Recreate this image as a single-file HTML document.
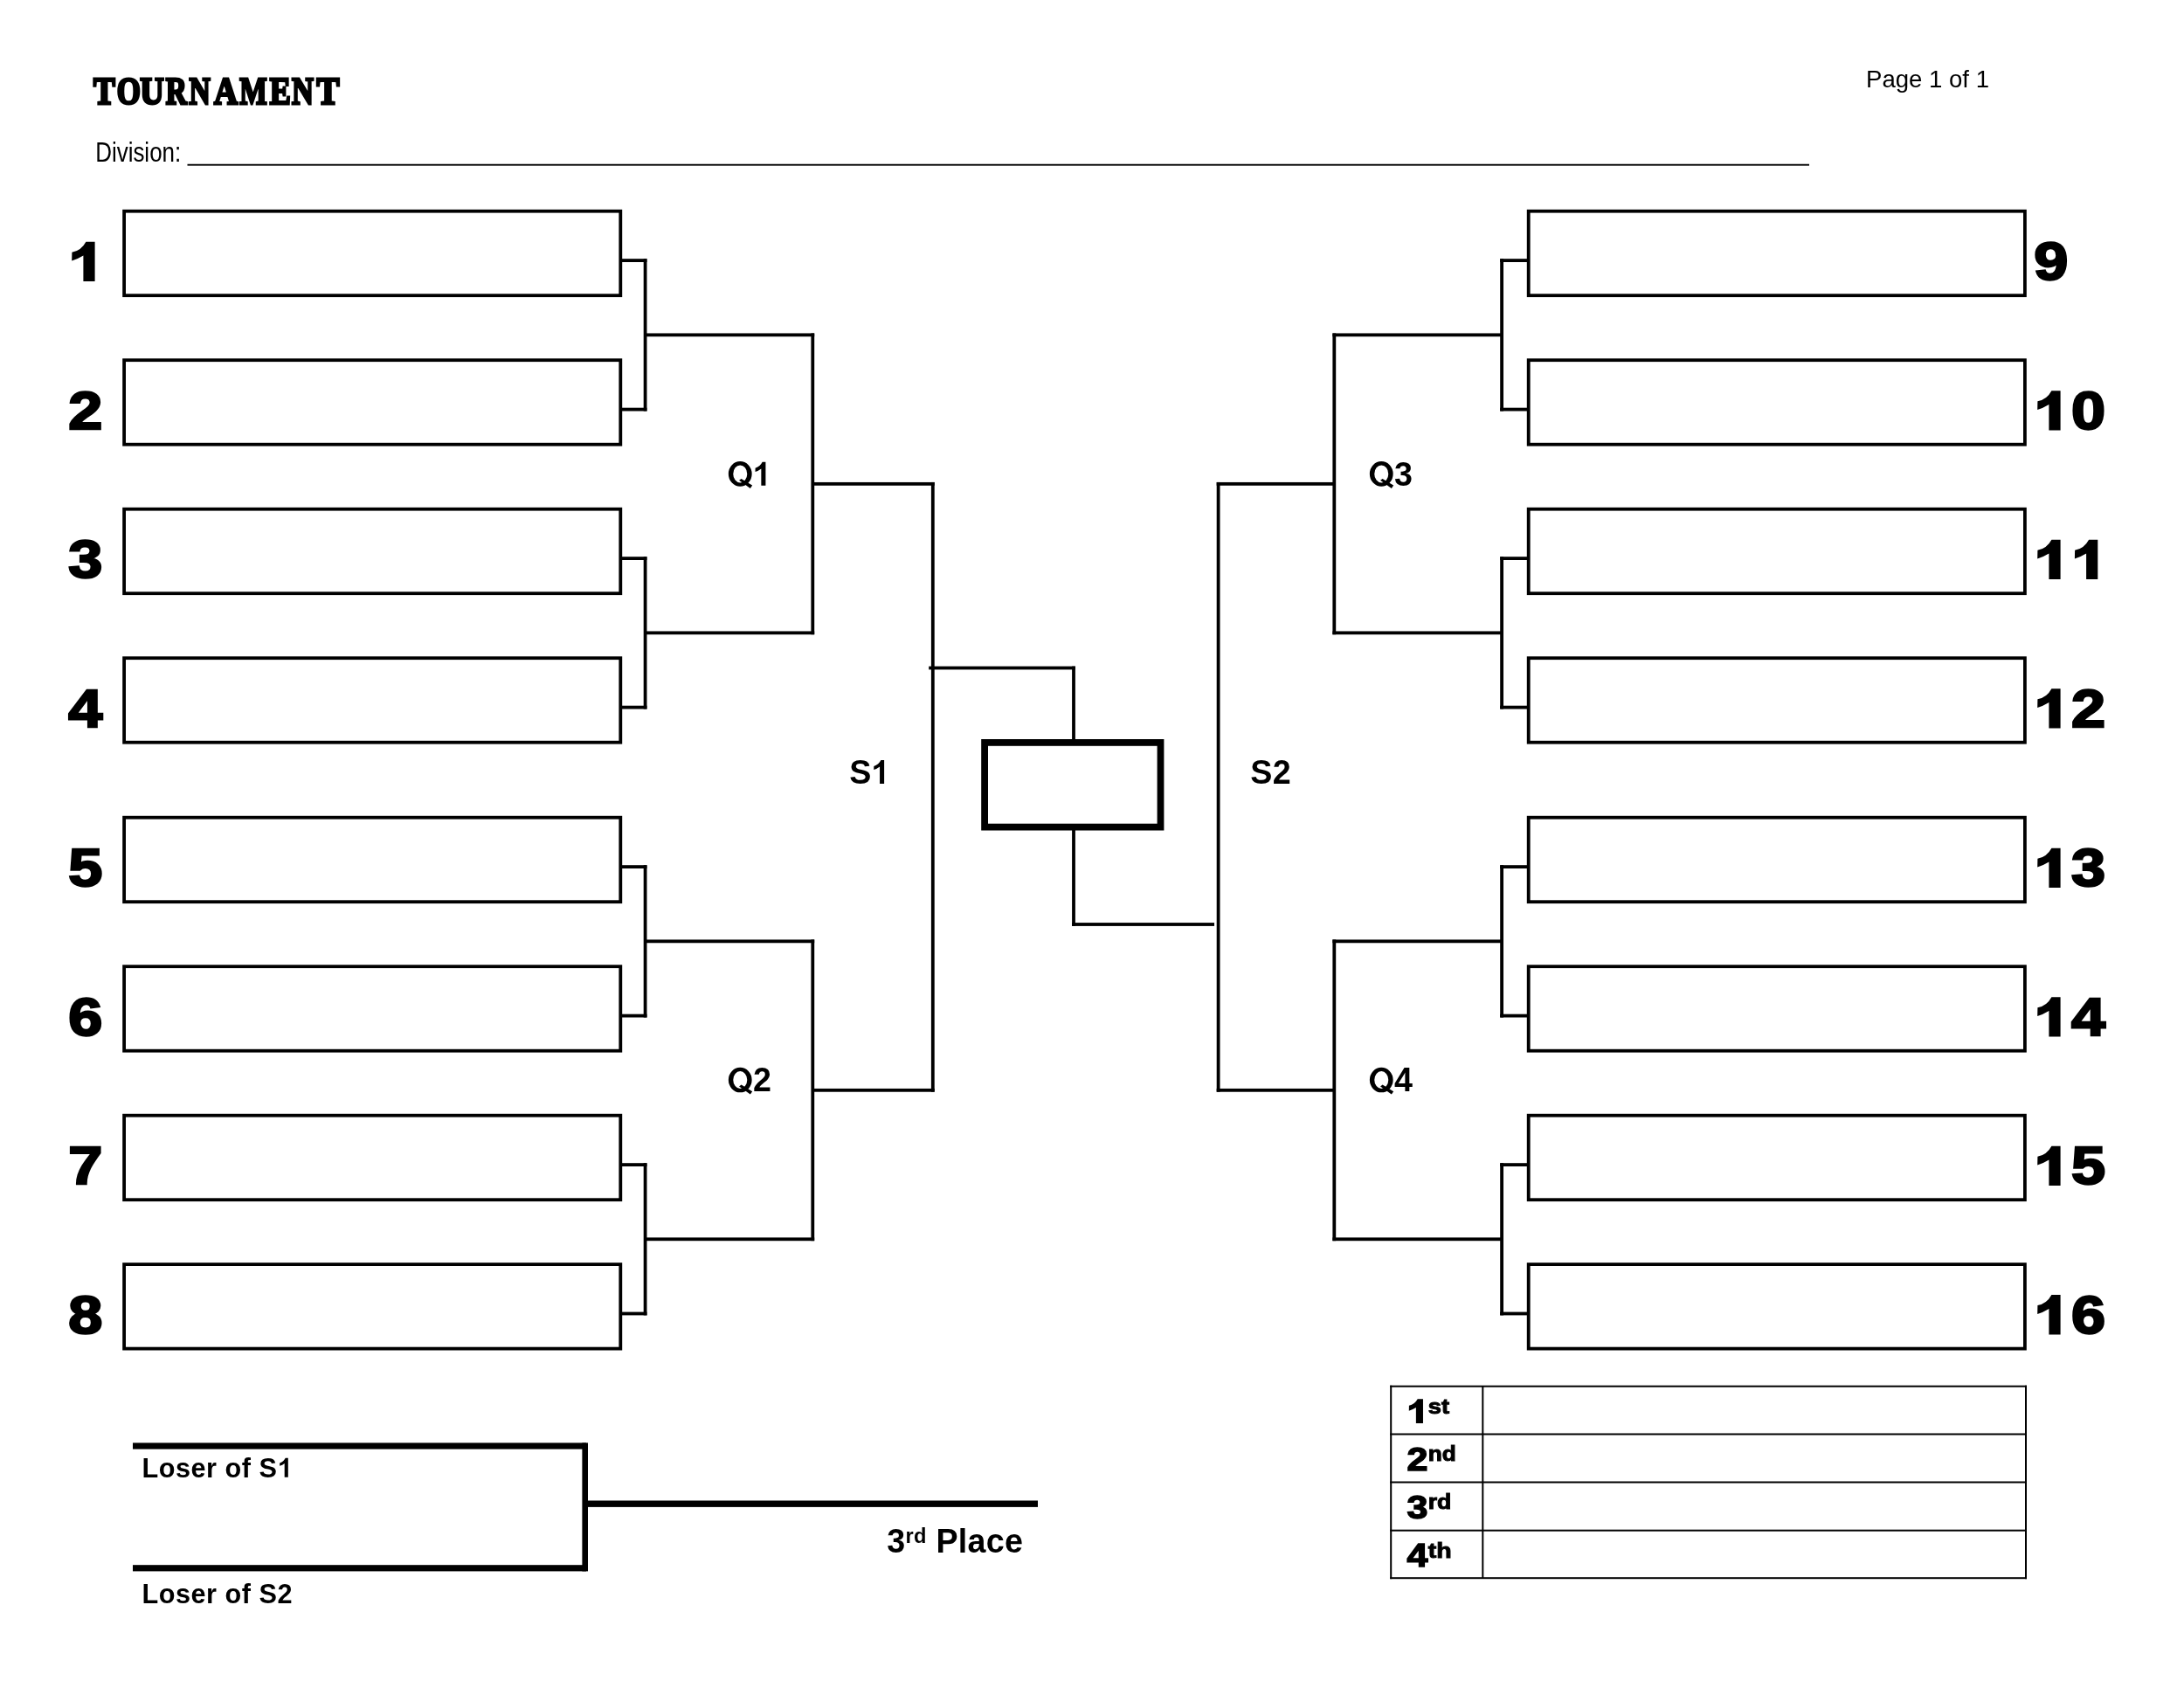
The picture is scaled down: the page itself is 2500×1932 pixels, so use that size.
<!DOCTYPE html>
<html><head><meta charset="utf-8"><title>Tournament</title>
<style>html,body{margin:0;padding:0;background:#fff;}body{width:2500px;height:1932px;overflow:hidden;font-family:"Liberation Sans",sans-serif;}svg{display:block;position:absolute;left:0;top:0;will-change:transform;}text{fill:#000;}</style>
</head><body>
<svg width="2500" height="1932" viewBox="0 0 2500 1932">
<rect x="0" y="0" width="2500" height="1932" fill="#fff"/>
<rect x="142.10" y="241.70" width="568.20" height="96.50" fill="none" stroke="#000" stroke-width="3.8"/>
<rect x="1749.70" y="241.70" width="568.20" height="96.50" fill="none" stroke="#000" stroke-width="3.8"/>
<rect x="711.20" y="296.20" width="29.30" height="3.80" fill="#000"/>
<rect x="1717.20" y="296.20" width="31.60" height="3.80" fill="#000"/>
<rect x="142.10" y="412.20" width="568.20" height="96.50" fill="none" stroke="#000" stroke-width="3.8"/>
<rect x="1749.70" y="412.20" width="568.20" height="96.50" fill="none" stroke="#000" stroke-width="3.8"/>
<rect x="711.20" y="466.70" width="29.30" height="3.80" fill="#000"/>
<rect x="1717.20" y="466.70" width="31.60" height="3.80" fill="#000"/>
<rect x="142.10" y="582.70" width="568.20" height="96.50" fill="none" stroke="#000" stroke-width="3.8"/>
<rect x="1749.70" y="582.70" width="568.20" height="96.50" fill="none" stroke="#000" stroke-width="3.8"/>
<rect x="711.20" y="637.20" width="29.30" height="3.80" fill="#000"/>
<rect x="1717.20" y="637.20" width="31.60" height="3.80" fill="#000"/>
<rect x="142.10" y="753.20" width="568.20" height="96.50" fill="none" stroke="#000" stroke-width="3.8"/>
<rect x="1749.70" y="753.20" width="568.20" height="96.50" fill="none" stroke="#000" stroke-width="3.8"/>
<rect x="711.20" y="807.70" width="29.30" height="3.80" fill="#000"/>
<rect x="1717.20" y="807.70" width="31.60" height="3.80" fill="#000"/>
<rect x="142.10" y="935.70" width="568.20" height="96.50" fill="none" stroke="#000" stroke-width="3.8"/>
<rect x="1749.70" y="935.70" width="568.20" height="96.50" fill="none" stroke="#000" stroke-width="3.8"/>
<rect x="711.20" y="990.20" width="29.30" height="3.80" fill="#000"/>
<rect x="1717.20" y="990.20" width="31.60" height="3.80" fill="#000"/>
<rect x="142.10" y="1106.20" width="568.20" height="96.50" fill="none" stroke="#000" stroke-width="3.8"/>
<rect x="1749.70" y="1106.20" width="568.20" height="96.50" fill="none" stroke="#000" stroke-width="3.8"/>
<rect x="711.20" y="1160.70" width="29.30" height="3.80" fill="#000"/>
<rect x="1717.20" y="1160.70" width="31.60" height="3.80" fill="#000"/>
<rect x="142.10" y="1276.70" width="568.20" height="96.50" fill="none" stroke="#000" stroke-width="3.8"/>
<rect x="1749.70" y="1276.70" width="568.20" height="96.50" fill="none" stroke="#000" stroke-width="3.8"/>
<rect x="711.20" y="1331.20" width="29.30" height="3.80" fill="#000"/>
<rect x="1717.20" y="1331.20" width="31.60" height="3.80" fill="#000"/>
<rect x="142.10" y="1447.10" width="568.20" height="96.50" fill="none" stroke="#000" stroke-width="3.8"/>
<rect x="1749.70" y="1447.10" width="568.20" height="96.50" fill="none" stroke="#000" stroke-width="3.8"/>
<rect x="711.20" y="1501.60" width="29.30" height="3.80" fill="#000"/>
<rect x="1717.20" y="1501.60" width="31.60" height="3.80" fill="#000"/>
<rect x="736.70" y="296.20" width="3.80" height="174.30" fill="#000"/>
<rect x="1717.20" y="296.20" width="3.80" height="174.30" fill="#000"/>
<rect x="738.60" y="381.45" width="193.60" height="3.80" fill="#000"/>
<rect x="1525.40" y="381.45" width="193.70" height="3.80" fill="#000"/>
<rect x="736.70" y="637.20" width="3.80" height="174.30" fill="#000"/>
<rect x="1717.20" y="637.20" width="3.80" height="174.30" fill="#000"/>
<rect x="738.60" y="722.45" width="193.60" height="3.80" fill="#000"/>
<rect x="1525.40" y="722.45" width="193.70" height="3.80" fill="#000"/>
<rect x="736.70" y="990.20" width="3.80" height="174.30" fill="#000"/>
<rect x="1717.20" y="990.20" width="3.80" height="174.30" fill="#000"/>
<rect x="738.60" y="1075.45" width="193.60" height="3.80" fill="#000"/>
<rect x="1525.40" y="1075.45" width="193.70" height="3.80" fill="#000"/>
<rect x="736.70" y="1331.20" width="3.80" height="174.20" fill="#000"/>
<rect x="1717.20" y="1331.20" width="3.80" height="174.20" fill="#000"/>
<rect x="738.60" y="1416.40" width="193.60" height="3.80" fill="#000"/>
<rect x="1525.40" y="1416.40" width="193.70" height="3.80" fill="#000"/>
<rect x="928.40" y="381.45" width="3.80" height="344.80" fill="#000"/>
<rect x="1525.40" y="381.45" width="3.80" height="344.80" fill="#000"/>
<rect x="930.30" y="551.95" width="139.40" height="3.80" fill="#000"/>
<rect x="1392.70" y="551.95" width="134.60" height="3.80" fill="#000"/>
<rect x="928.40" y="1075.45" width="3.80" height="344.75" fill="#000"/>
<rect x="1525.40" y="1075.45" width="3.80" height="344.75" fill="#000"/>
<rect x="930.30" y="1245.92" width="139.40" height="3.80" fill="#000"/>
<rect x="1392.70" y="1245.92" width="134.60" height="3.80" fill="#000"/>
<rect x="1065.90" y="551.95" width="3.80" height="697.77" fill="#000"/>
<rect x="1392.70" y="551.95" width="3.80" height="697.77" fill="#000"/>
<rect x="1063.20" y="762.60" width="167.70" height="3.80" fill="#000"/>
<rect x="1227.10" y="762.60" width="3.80" height="85.40" fill="#000"/>
<rect x="1127.10" y="849.90" width="201.40" height="96.70" fill="none" stroke="#000" stroke-width="7.8"/>
<rect x="1227.10" y="949.00" width="3.80" height="110.90" fill="#000"/>
<rect x="1227.10" y="1056.10" width="162.90" height="3.80" fill="#000"/>
<path d="M 833.87 542.42 A 13.38 14.29 0 1 0 860.64 542.42 A 13.38 14.29 0 1 0 833.87 542.42 Z M 839.26 542.42 A 7.99 9.99 0 1 1 855.25 542.42 A 7.99 9.99 0 1 1 839.26 542.42 Z" fill="#000" fill-rule="evenodd"/>
<polygon points="846.05,549.81 848.54,548.00 861.17,555.61 858.87,558.89" fill="#000"/>
<path d="M 876.40 555.80 L 876.40 528.81 L 872.67 528.81 Q 870.29 533.75 864.60 535.82 L 864.52 539.97 Q 868.41 538.65 871.35 536.38 L 871.35 555.80 Z" fill="#000"/>
<path d="M 833.87 1236.02 A 13.38 14.29 0 1 0 860.64 1236.02 A 13.38 14.29 0 1 0 833.87 1236.02 Z M 839.26 1236.02 A 7.99 9.99 0 1 1 855.25 1236.02 A 7.99 9.99 0 1 1 839.26 1236.02 Z" fill="#000" fill-rule="evenodd"/>
<polygon points="846.05,1243.41 848.54,1241.60 861.17,1249.21 858.87,1252.49" fill="#000"/>
<text transform="translate(862.03,1249.4) scale(0.961,1)" font-family="Liberation Sans" font-size="39.23" font-weight="bold" letter-spacing="0.312" xml:space="preserve">2</text>
<path d="M 1567.87 542.42 A 13.38 14.29 0 1 0 1594.64 542.42 A 13.38 14.29 0 1 0 1567.87 542.42 Z M 1573.26 542.42 A 7.99 9.99 0 1 1 1589.25 542.42 A 7.99 9.99 0 1 1 1573.26 542.42 Z" fill="#000" fill-rule="evenodd"/>
<polygon points="1580.05,549.81 1582.54,548.00 1595.17,555.61 1592.87,558.89" fill="#000"/>
<text transform="translate(1596.03,555.8) scale(0.961,1)" font-family="Liberation Sans" font-size="39.23" font-weight="bold" letter-spacing="0.312" xml:space="preserve">3</text>
<path d="M 1567.87 1236.02 A 13.38 14.29 0 1 0 1594.64 1236.02 A 13.38 14.29 0 1 0 1567.87 1236.02 Z M 1573.26 1236.02 A 7.99 9.99 0 1 1 1589.25 1236.02 A 7.99 9.99 0 1 1 1573.26 1236.02 Z" fill="#000" fill-rule="evenodd"/>
<polygon points="1580.05,1243.41 1582.54,1241.60 1595.17,1249.21 1592.87,1252.49" fill="#000"/>
<text transform="translate(1596.03,1249.4) scale(0.961,1)" font-family="Liberation Sans" font-size="39.23" font-weight="bold" letter-spacing="0.312" xml:space="preserve">4</text>
<text transform="translate(972.30,896.9) scale(0.961,1)" font-family="Liberation Sans" font-size="39.23" font-weight="bold" letter-spacing="-0.312" xml:space="preserve">S</text>
<path d="M 1012.11 896.90 L 1012.11 869.91 L 1008.38 869.91 Q 1006.01 874.85 1000.31 876.92 L 1000.24 881.07 Q 1004.12 879.75 1007.06 877.48 L 1007.06 896.90 Z" fill="#000"/>
<text transform="translate(1431.20,896.9) scale(0.961,1)" font-family="Liberation Sans" font-size="39.23" font-weight="bold" letter-spacing="0.312" xml:space="preserve">S2</text>
<path d="M 108.60 322.00 L 108.60 276.70 L 98.40 276.70 Q 92.90 287.00 82.40 288.70 L 82.20 298.50 Q 88.80 296.70 95.40 292.60 L 95.40 322.00 Z" fill="#000"/>
<text transform="translate(2328.31,320.40) scale(1.1408,1)" font-family="Liberation Sans" font-size="61.60" font-weight="bold" stroke="#000" stroke-width="2.40" stroke-linejoin="miter">9</text>
<text transform="translate(78.31,490.90) scale(1.1408,1)" font-family="Liberation Sans" font-size="61.60" font-weight="bold" stroke="#000" stroke-width="2.40" stroke-linejoin="miter">2</text>
<path d="M 2358.60 492.50 L 2358.60 447.20 L 2348.40 447.20 Q 2342.90 457.50 2332.40 459.20 L 2332.20 469.00 Q 2338.80 467.20 2345.40 463.10 L 2345.40 492.50 Z" fill="#000"/>
<text transform="translate(2371.01,490.90) scale(1.1408,1)" font-family="Liberation Sans" font-size="61.60" font-weight="bold" stroke="#000" stroke-width="2.40" stroke-linejoin="miter">0</text>
<text transform="translate(78.31,661.40) scale(1.1408,1)" font-family="Liberation Sans" font-size="61.60" font-weight="bold" stroke="#000" stroke-width="2.40" stroke-linejoin="miter">3</text>
<path d="M 2358.60 663.00 L 2358.60 617.70 L 2348.40 617.70 Q 2342.90 628.00 2332.40 629.70 L 2332.20 639.50 Q 2338.80 637.70 2345.40 633.60 L 2345.40 663.00 Z" fill="#000"/>
<path d="M 2401.30 663.00 L 2401.30 617.70 L 2391.10 617.70 Q 2385.60 628.00 2375.10 629.70 L 2374.90 639.50 Q 2381.50 637.70 2388.10 633.60 L 2388.10 663.00 Z" fill="#000"/>
<text transform="translate(78.31,831.90) scale(1.1408,1)" font-family="Liberation Sans" font-size="61.60" font-weight="bold" stroke="#000" stroke-width="2.40" stroke-linejoin="miter">4</text>
<path d="M 2358.60 833.50 L 2358.60 788.20 L 2348.40 788.20 Q 2342.90 798.50 2332.40 800.20 L 2332.20 810.00 Q 2338.80 808.20 2345.40 804.10 L 2345.40 833.50 Z" fill="#000"/>
<text transform="translate(2371.01,831.90) scale(1.1408,1)" font-family="Liberation Sans" font-size="61.60" font-weight="bold" stroke="#000" stroke-width="2.40" stroke-linejoin="miter">2</text>
<text transform="translate(78.31,1014.40) scale(1.1408,1)" font-family="Liberation Sans" font-size="61.60" font-weight="bold" stroke="#000" stroke-width="2.40" stroke-linejoin="miter">5</text>
<path d="M 2358.60 1016.00 L 2358.60 970.70 L 2348.40 970.70 Q 2342.90 981.00 2332.40 982.70 L 2332.20 992.50 Q 2338.80 990.70 2345.40 986.60 L 2345.40 1016.00 Z" fill="#000"/>
<text transform="translate(2371.01,1014.40) scale(1.1408,1)" font-family="Liberation Sans" font-size="61.60" font-weight="bold" stroke="#000" stroke-width="2.40" stroke-linejoin="miter">3</text>
<text transform="translate(78.31,1184.90) scale(1.1408,1)" font-family="Liberation Sans" font-size="61.60" font-weight="bold" stroke="#000" stroke-width="2.40" stroke-linejoin="miter">6</text>
<path d="M 2358.60 1186.50 L 2358.60 1141.20 L 2348.40 1141.20 Q 2342.90 1151.50 2332.40 1153.20 L 2332.20 1163.00 Q 2338.80 1161.20 2345.40 1157.10 L 2345.40 1186.50 Z" fill="#000"/>
<text transform="translate(2371.01,1184.90) scale(1.1408,1)" font-family="Liberation Sans" font-size="61.60" font-weight="bold" stroke="#000" stroke-width="2.40" stroke-linejoin="miter">4</text>
<text transform="translate(78.31,1355.40) scale(1.1408,1)" font-family="Liberation Sans" font-size="61.60" font-weight="bold" stroke="#000" stroke-width="2.40" stroke-linejoin="miter">7</text>
<path d="M 2358.60 1357.00 L 2358.60 1311.70 L 2348.40 1311.70 Q 2342.90 1322.00 2332.40 1323.70 L 2332.20 1333.50 Q 2338.80 1331.70 2345.40 1327.60 L 2345.40 1357.00 Z" fill="#000"/>
<text transform="translate(2371.01,1355.40) scale(1.1408,1)" font-family="Liberation Sans" font-size="61.60" font-weight="bold" stroke="#000" stroke-width="2.40" stroke-linejoin="miter">5</text>
<text transform="translate(78.31,1525.80) scale(1.1408,1)" font-family="Liberation Sans" font-size="61.60" font-weight="bold" stroke="#000" stroke-width="2.40" stroke-linejoin="miter">8</text>
<path d="M 2358.60 1527.40 L 2358.60 1482.10 L 2348.40 1482.10 Q 2342.90 1492.40 2332.40 1494.10 L 2332.20 1503.90 Q 2338.80 1502.10 2345.40 1498.00 L 2345.40 1527.40 Z" fill="#000"/>
<text transform="translate(2371.01,1525.80) scale(1.1408,1)" font-family="Liberation Sans" font-size="61.60" font-weight="bold" stroke="#000" stroke-width="2.40" stroke-linejoin="miter">6</text>
<text transform="translate(106.88,118.8) scale(0.8421,1)" font-family="Liberation Serif" font-size="44.0" font-weight="bold" stroke="#000" stroke-width="3.0" stroke-linejoin="miter">T</text>
<text transform="translate(133.79,118.8) scale(0.7926,1)" font-family="Liberation Serif" font-size="44.0" font-weight="bold" stroke="#000" stroke-width="3.0" stroke-linejoin="miter">O</text>
<text transform="translate(160.15,118.8) scale(0.8624,1)" font-family="Liberation Serif" font-size="44.0" font-weight="bold" stroke="#000" stroke-width="3.0" stroke-linejoin="miter">U</text>
<text transform="translate(189.87,118.8) scale(0.7614,1)" font-family="Liberation Serif" font-size="44.0" font-weight="bold" stroke="#000" stroke-width="3.0" stroke-linejoin="miter">R</text>
<text transform="translate(216.60,118.8) scale(0.7614,1)" font-family="Liberation Serif" font-size="44.0" font-weight="bold" stroke="#000" stroke-width="3.0" stroke-linejoin="miter">N</text>
<text transform="translate(245.11,118.8) scale(0.8494,1)" font-family="Liberation Serif" font-size="44.0" font-weight="bold" stroke="#000" stroke-width="3.0" stroke-linejoin="miter">A</text>
<text transform="translate(274.37,118.8) scale(0.7575,1)" font-family="Liberation Serif" font-size="44.0" font-weight="bold" stroke="#000" stroke-width="3.0" stroke-linejoin="miter">M</text>
<text transform="translate(308.71,118.8) scale(0.8180,1)" font-family="Liberation Serif" font-size="44.0" font-weight="bold" stroke="#000" stroke-width="3.0" stroke-linejoin="miter">E</text>
<text transform="translate(334.02,118.8) scale(0.7824,1)" font-family="Liberation Serif" font-size="44.0" font-weight="bold" stroke="#000" stroke-width="3.0" stroke-linejoin="miter">N</text>
<text transform="translate(362.42,118.8) scale(0.8840,1)" font-family="Liberation Serif" font-size="44.0" font-weight="bold" stroke="#000" stroke-width="3.0" stroke-linejoin="miter">T</text>
<text x="109.2" y="185.0" font-size="30.5" font-weight="normal" font-family="Liberation Sans" textLength="98" lengthAdjust="spacingAndGlyphs" >Division:</text>
<rect x="214.50" y="187.75" width="1856.50" height="1.90" fill="#000"/>
<text x="2136" y="100.3" font-size="28" font-weight="normal" font-family="Liberation Sans" textLength="141" lengthAdjust="spacingAndGlyphs" >Page 1 of 1</text>
<rect x="152.00" y="1651.40" width="519.00" height="7.20" fill="#000"/>
<rect x="152.00" y="1791.20" width="519.00" height="7.20" fill="#000"/>
<rect x="666.40" y="1651.40" width="6.60" height="147.00" fill="#000"/>
<rect x="669.70" y="1717.50" width="518.30" height="7.40" fill="#000"/>
<text transform="translate(162.50,1690.7) scale(0.961,1)" font-family="Liberation Sans" font-size="31.94" font-weight="bold" letter-spacing="0.520" xml:space="preserve">Loser of S</text>
<path d="M 329.81 1690.70 L 329.81 1668.72 L 326.77 1668.72 Q 324.84 1672.74 320.20 1674.43 L 320.14 1677.81 Q 323.30 1676.73 325.70 1674.89 L 325.70 1690.70 Z" fill="#000"/>
<text transform="translate(162.50,1835.4) scale(0.961,1)" font-family="Liberation Sans" font-size="31.94" font-weight="bold" letter-spacing="0.520" xml:space="preserve">Loser of S2</text>
<text transform="translate(1015.2,1777.4) scale(.961,1)" font-family="Liberation Sans" font-size="39.2" font-weight="bold" letter-spacing="0.3">3<tspan font-size="24.6" dy="-11.4">rd</tspan><tspan dy="11.4"> Place</tspan></text>
<rect x="1591.20" y="1585.70" width="728.80" height="2.00" fill="#000"/>
<rect x="1591.20" y="1640.50" width="728.80" height="2.00" fill="#000"/>
<rect x="1591.20" y="1695.50" width="728.80" height="2.00" fill="#000"/>
<rect x="1591.20" y="1750.70" width="728.80" height="2.00" fill="#000"/>
<rect x="1591.20" y="1805.20" width="728.80" height="2.00" fill="#000"/>
<rect x="1591.20" y="1585.70" width="2.00" height="221.50" fill="#000"/>
<rect x="2318.00" y="1585.70" width="2.00" height="221.50" fill="#000"/>
<rect x="1696.30" y="1586.70" width="2.00" height="219.50" fill="#000"/>
<path d="M 1628.97 1629.10 L 1628.97 1601.35 L 1622.72 1601.35 Q 1619.35 1607.66 1612.92 1608.70 L 1612.80 1614.71 Q 1616.84 1613.60 1620.88 1611.09 L 1620.88 1629.10 Z" fill="#000"/>
<text x="1634.75" y="1617.50" font-family="Liberation Sans" font-size="24.6" font-weight="bold" stroke="#000" stroke-width="1" textLength="24.2" lengthAdjust="spacingAndGlyphs">st</text>
<text transform="translate(1610.42,1682.92) scale(1.1408,1)" font-family="Liberation Sans" font-size="37.73" font-weight="bold" stroke="#000" stroke-width="1.47" stroke-linejoin="miter">2</text>
<text x="1634.75" y="1672.30" font-family="Liberation Sans" font-size="24.6" font-weight="bold" stroke="#000" stroke-width="1" textLength="32.0" lengthAdjust="spacingAndGlyphs">nd</text>
<text transform="translate(1610.42,1737.92) scale(1.1408,1)" font-family="Liberation Sans" font-size="37.73" font-weight="bold" stroke="#000" stroke-width="1.47" stroke-linejoin="miter">3</text>
<text x="1634.75" y="1727.30" font-family="Liberation Sans" font-size="24.6" font-weight="bold" stroke="#000" stroke-width="1" textLength="26.6" lengthAdjust="spacingAndGlyphs">rd</text>
<text transform="translate(1610.42,1793.12) scale(1.1408,1)" font-family="Liberation Sans" font-size="37.73" font-weight="bold" stroke="#000" stroke-width="1.47" stroke-linejoin="miter">4</text>
<text x="1634.75" y="1782.50" font-family="Liberation Sans" font-size="24.6" font-weight="bold" stroke="#000" stroke-width="1" textLength="26.9" lengthAdjust="spacingAndGlyphs">th</text>
</svg></body></html>
